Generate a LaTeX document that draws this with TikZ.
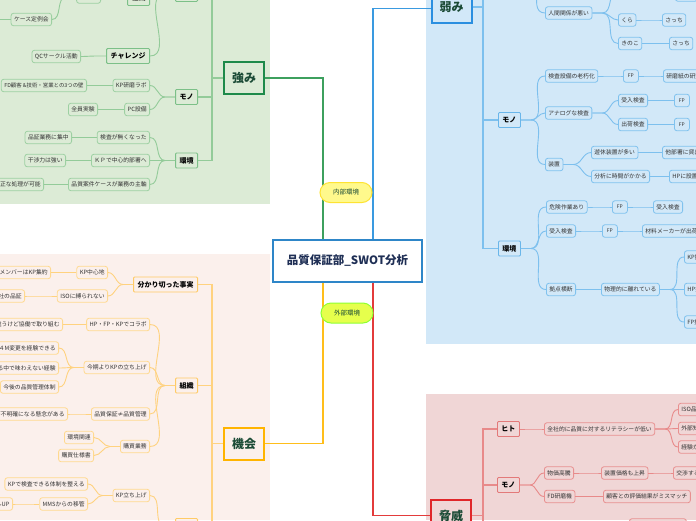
\documentclass[tikz,border=0pt]{standalone}
\usepackage{fontspec}
\setmainfont{Noto Sans CJK JP}
\definecolor{gbg}{HTML}{DCEBD6}
\definecolor{gbd}{HTML}{9DD0A2}
\definecolor{gbd2}{HTML}{7CC088}
\definecolor{gln}{HTML}{93CB99}
\definecolor{gmainc}{HTML}{3DA05E}
\definecolor{gquad}{HTML}{1E8A4A}
\definecolor{obg}{HTML}{FBF0EC}
\definecolor{obd}{HTML}{FFD98F}
\definecolor{obd2}{HTML}{FFCB66}
\definecolor{oln}{HTML}{FFD27F}
\definecolor{omainc}{HTML}{FFBE1A}
\definecolor{oquad}{HTML}{FFB400}
\definecolor{bbg}{HTML}{D2E8F8}
\definecolor{bbd}{HTML}{80C2EE}
\definecolor{bbd2}{HTML}{6AB6EA}
\definecolor{bln}{HTML}{7DC0EE}
\definecolor{bmainc}{HTML}{3A9AE0}
\definecolor{bquad}{HTML}{2B8FE0}
\definecolor{rbg}{HTML}{F0D6D6}
\definecolor{rbd}{HTML}{E89090}
\definecolor{rbd2}{HTML}{E37A7A}
\definecolor{rln}{HTML}{E88A8A}
\definecolor{rmainc}{HTML}{E33B3B}
\definecolor{rquad}{HTML}{E0272A}
\definecolor{txtc}{HTML}{333333}
\definecolor{qtext}{HTML}{1B4B36}
\definecolor{ctext}{HTML}{1F2F55}
\definecolor{cbd}{HTML}{2E86C8}
\newcommand\mmL[3]{\draw[#1] (#2.west) -- ++(-10,0) to[out=180,in=0] (#3.east);}
\newcommand\mmR[3]{\draw[#1] (#2.east) -- ++(10,0) to[out=0,in=180] (#3.west);}
\tikzset{
  base/.style={rounded corners=2.5pt, line width=0.8pt, text=txtc,
    font=\fontsize{5.8}{7}\selectfont, inner xsep=3pt, inner ysep=0pt, minimum height=12.5pt},
  midbase/.style={rounded corners=1pt, line width=0.9pt, text=black,
    font=\bfseries\fontsize{7}{8}\selectfont, inner xsep=4pt, inner ysep=0pt, minimum height=15pt},
  gleaf/.style={base, draw=gbd, fill=gbg},
  gmid/.style={midbase, draw=gbd2, fill=gbg},
  oleaf/.style={base, draw=obd, fill=obg},
  omid/.style={midbase, draw=obd2, fill=obg},
  bleaf/.style={base, draw=bbd, fill=bbg},
  bmid/.style={midbase, draw=bbd2, fill=bbg},
  rleaf/.style={base, draw=rbd, fill=rbg},
  rmid/.style={midbase, draw=rbd2, fill=rbg},
  glink/.style={draw=gln, line width=0.9pt},
  olink/.style={draw=oln, line width=0.9pt},
  blink/.style={draw=bln, line width=0.9pt},
  rlink/.style={draw=rln, line width=0.9pt},
  quad/.style={line width=2pt, minimum width=40pt, minimum height=32pt, inner sep=0pt,
    font=\bfseries\fontsize{12}{14}\selectfont, text=qtext},
  pill/.style={rounded corners=10pt, line width=1pt, minimum width=52pt, minimum height=20pt,
    inner sep=0pt, font=\fontsize{6.5}{8}\selectfont, text=qtext},
  smallfp/.style={minimum width=15pt, inner xsep=2pt, font=\fontsize{5}{6}\selectfont},
}
\begin{document}
\begin{tikzpicture}[x=1pt,y=-1pt]
\useasboundingbox (0,0) rectangle (696,520);
\clip (0,0) rectangle (696,520);
\fill[white] (0,0) rectangle (696,520);
% regions
\fill[gbg] (0,0) rectangle (270,204);
\fill[obg] (0,254) rectangle (270,520);
\fill[bbg] (426,0) rectangle (696,344);
\fill[rbg] (426,394) rectangle (696,520);

% center and quadrant boxes
\node[draw=cbd, line width=1.6pt, fill=white, minimum width=149pt, minimum height=42pt, inner sep=0pt,
  font=\bfseries\fontsize{11.5}{13}\selectfont, text=ctext] (C) at (347.5,261) {品質保証部\_SWOT分析};
\node[quad, draw=gquad, fill=gbg] (S) at (244,78) {強み};
\node[quad, draw=bquad, fill=bbg] (W) at (451.5,7) {弱み};
\node[quad, draw=oquad, fill=obg] (O) at (244,443.5) {機会};
\node[quad, draw=rquad, fill=rbg] (T) at (451,515.5) {脅威};

% main lines
\draw[gmainc, line width=1.3pt] ([xshift=-24.5pt]C.north) |- (S.east);
\draw[bmainc, line width=1.3pt] ([xshift=25.5pt]C.north) |- ([yshift=-1.5pt]W.west);
\draw[omainc, line width=1.3pt] ([xshift=-24.5pt]C.south) |- (O.east);
\draw[rmainc, line width=1.3pt] ([xshift=25.5pt]C.south) |- (T.west);
\node[pill, draw=yellow!80!orange!80, fill=yellow!45] (in) at (346,192.5) {内部環境};
\node[pill, draw=lime!60!green!80, fill=lime!55!yellow!70] (out) at (347,313) {外部環境};

% ---------------- strengths ----------------
\node[gmid, anchor=east] (gH) at (198,-6) {ヒト};
\node[gmid, anchor=east] (gOrg) at (150,-2) {組織};
\node[gleaf, anchor=east, minimum width=24pt] (gX) at (101,-3) {};
\node[gleaf, anchor=east] (gCase) at (52,19.5) {ケース定例会};
\node[gleaf, anchor=east, minimum width=20pt] (gCaseC) at (-15,19.5) {};
\node[gmid, anchor=east] (gCh) at (150,56) {チャレンジ};
\node[gleaf, anchor=east] (gQC) at (81,56.5) {QCサークル活動};
\node[gmid, anchor=east] (gMono) at (198,97) {モノ};
\node[gleaf, anchor=east] (gKP) at (150,85.5) {KP研磨ラボ};
\node[gleaf, anchor=east, font=\fontsize{5.4}{7}\selectfont] (gFD) at (87,85.5) {FD顧客 \&技術・営業との3つの壁};
\node[gleaf, anchor=east] (gPC) at (150,109.5) {PC設備};
\node[gleaf, anchor=east] (gAll) at (98,109.5) {全員実験};
\node[gmid, anchor=east] (gEnv) at (198,160.5) {環境};
\node[gleaf, anchor=east] (gNo) at (150,137.5) {検査が無くなった};
\node[gleaf, anchor=east] (gFoc) at (72,137.5) {品証業務に集中};
\node[gleaf, anchor=east] (gCen) at (150,160.5) {ＫＰで中心的部署へ};
\node[gleaf, anchor=east] (gKan) at (66,160.5) {干渉力は強い};
\node[gleaf, anchor=east] (gMain) at (150,184.5) {品質案件ケースが業務の主軸};
\node[gleaf, anchor=east] (gProc) at (44,184.5) {適正な処理が可能};

\draw[glink, line width=1.1pt] (S.west) -- ++(-11,0) coordinate (gj);
\draw[glink, line width=1.1pt] (gj) |- (gH.east);
\draw[glink, line width=1.1pt] (gj) |- (gMono.east);
\draw[glink, line width=1.1pt] (gj) |- (gEnv.east);
\mmL{glink}{gH}{gOrg}
\mmL{glink}{gH}{gCh}
\mmL{glink}{gOrg}{gX}
\mmL{glink}{gX}{gCase}
\mmL{glink}{gCase}{gCaseC}
\mmL{glink}{gCh}{gQC}
\mmL{glink}{gMono}{gKP}
\mmL{glink}{gMono}{gPC}
\mmL{glink}{gKP}{gFD}
\mmL{glink}{gPC}{gAll}
\mmL{glink}{gEnv}{gNo}
\mmL{glink}{gEnv}{gCen}
\mmL{glink}{gEnv}{gMain}
\mmL{glink}{gNo}{gFoc}
\mmL{glink}{gCen}{gKan}
\mmL{glink}{gMain}{gProc}

% ---------------- opportunities ----------------
\node[omid, anchor=east] (oFact) at (198,284.5) {分かり切った事実};
\node[oleaf, anchor=east] (oKP) at (108,272.5) {KP中心地};
\node[oleaf, anchor=east] (oMem) at (51,272.5) {主要メンバーはKP集約};
\node[oleaf, anchor=east] (oISO) at (108,296) {ISOに縛られない};
\node[oleaf, anchor=east] (oOth) at (25,296) {他社の品証};
\node[omid, anchor=east] (oOrg) at (198,385.5) {組織};
\node[oleaf, anchor=east] (oCol) at (150,324.5) {HP・FP・KPでコラボ};
\node[oleaf, anchor=east] (oDiff) at (63,324.5) {役割は違うけど協働で取り組む};
\node[oleaf, anchor=east] (oStart) at (150,367.5) {今期よりKPの立ち上げ};
\node[oleaf, anchor=east] (o4M) at (59,348) {４M変更を経験できる};
\node[oleaf, anchor=east] (oTaste) at (59,368) {工場にいる中で味わえない経験};
\node[oleaf, anchor=east] (oFut) at (59,387) {今後の品質管理体制};
\node[oleaf, anchor=east] (oQA) at (150,414) {品質保証≠品質管理};
\node[oleaf, anchor=east] (oUnc) at (68,414) {役割が不明確になる懸念がある};
\node[oleaf, anchor=east] (oBuy) at (150,446.5) {購買業務};
\node[oleaf, anchor=east] (oEnvR) at (94,437.5) {環境関連};
\node[oleaf, anchor=east] (oSpec) at (94,455.5) {購買仕様書};
\node[omid, anchor=east] (oBot) at (198,526) {ヒト};
\node[oleaf, anchor=east] (oKPup) at (150,495.5) {KP立ち上げ};
\node[oleaf, anchor=east] (oSys) at (88,484) {KPで検査できる体制を整える};
\node[oleaf, anchor=east] (oMMS) at (88,504) {MMSからの移管};
\node[oleaf, anchor=east] (oUP) at (13,504) {スキルUP};

\draw[olink, line width=1.1pt] (O.west) -- ++(-11,0) coordinate (oj);
\draw[olink, line width=1.1pt] (oj) |- (oFact.east);
\draw[olink, line width=1.1pt] (oj) |- (oOrg.east);
\draw[olink, line width=1.1pt] (oj) |- (oBot.east);
\mmL{olink}{oFact}{oKP}
\mmL{olink}{oFact}{oISO}
\mmL{olink}{oKP}{oMem}
\mmL{olink}{oISO}{oOth}
\mmL{olink}{oOrg}{oCol}
\mmL{olink}{oOrg}{oStart}
\mmL{olink}{oOrg}{oQA}
\mmL{olink}{oOrg}{oBuy}
\mmL{olink}{oCol}{oDiff}
\mmL{olink}{oStart}{o4M}
\mmL{olink}{oStart}{oTaste}
\mmL{olink}{oStart}{oFut}
\mmL{olink}{oQA}{oUnc}
\mmL{olink}{oBuy}{oEnvR}
\mmL{olink}{oBuy}{oSpec}
\mmL{olink}{oBot}{oKPup}
\mmL{olink}{oKPup}{oSys}
\mmL{olink}{oKPup}{oMMS}
\mmL{olink}{oMMS}{oUP}

% ---------------- weaknesses ----------------
\node[bmid, anchor=west] (wH) at (498,-40) {ヒト};
\node[bleaf, anchor=west] (wRel) at (545,13) {人間関係が悪い};
\node[bleaf, anchor=west, minimum width=30pt] (wTop) at (618,-10) {};
\node[bleaf, anchor=west, minimum width=22pt] (wTopR) at (675,-5) {};
\node[bleaf, anchor=west] (wKura) at (618,20) {くら};
\node[bleaf, anchor=west] (wSa1) at (662,20) {さっち};
\node[bleaf, anchor=west] (wKino) at (618,43.5) {きのこ};
\node[bleaf, anchor=west] (wSa2) at (669,43.5) {さっち};
\node[bmid, anchor=west] (wMono) at (498,120) {モノ};
\node[bleaf, anchor=west] (wOld) at (545,76) {検査設備の老朽化};
\node[bleaf, smallfp, anchor=west] (wFP1) at (623,76) {FP};
\node[bleaf, anchor=west] (wPap) at (663,76) {研磨紙の研究};
\node[bleaf, anchor=west] (wAna) at (545,113) {アナログな検査};
\node[bleaf, anchor=west] (wIn) at (618,100.5) {受入検査};
\node[bleaf, smallfp, anchor=west] (wFP2) at (674,100.5) {FP};
\node[bleaf, anchor=west] (wOut) at (618,124.5) {出荷検査};
\node[bleaf, smallfp, anchor=west] (wFP3) at (674,124.5) {FP};
\node[bleaf, anchor=west] (wDev) at (545,164.5) {装置};
\node[bleaf, anchor=west] (wIdle) at (591,152.5) {遊休装置が多い};
\node[bleaf, anchor=west] (wLend) at (662,152.5) {他部署に貸出};
\node[bleaf, anchor=west] (wAnal) at (591,176.5) {分析に時間がかかる};
\node[bleaf, anchor=west] (wHP) at (669,176.5) {HPに設置};
\node[bmid, anchor=west] (wEnv) at (498,248.5) {環境};
\node[bleaf, anchor=west] (wDan) at (546,207) {危険作業あり};
\node[bleaf, smallfp, anchor=west] (wFP4) at (612,207) {FP};
\node[bleaf, anchor=west] (wIn2) at (653,207) {受入検査};
\node[bleaf, anchor=west] (wIn3) at (546,231) {受入検査};
\node[bleaf, smallfp, anchor=west] (wFP5) at (602,231) {FP};
\node[bleaf, anchor=west] (wMak) at (642,231) {材料メーカーが出荷検査};
\node[bleaf, anchor=west] (wCross) at (546,289.5) {拠点横断};
\node[bleaf, anchor=west] (wPhys) at (601,289.5) {物理的に離れている};
\node[bleaf, anchor=west] (wKP) at (684,257) {KP拠点};
\node[bleaf, anchor=west] (wHP2) at (684,289.5) {HP拠点};
\node[bleaf, anchor=west] (wFP6) at (684,322) {FP拠点};

\draw[blink, line width=1.1pt] (W.east) -- ++(10.5,0) coordinate (wj);
\draw[blink, line width=1.1pt] (wj) |- (wH.west);
\draw[blink, line width=1.1pt] (wj) |- (wMono.west);
\draw[blink, line width=1.1pt] (wj) |- (wEnv.west);
\mmR{blink}{wH}{wRel}
\mmR{blink}{wRel}{wTop}
\mmR{blink}{wTop}{wTopR}
\mmR{blink}{wRel}{wKura}
\mmR{blink}{wRel}{wKino}
\mmR{blink}{wKura}{wSa1}
\mmR{blink}{wKino}{wSa2}
\mmR{blink}{wMono}{wOld}
\mmR{blink}{wMono}{wAna}
\mmR{blink}{wMono}{wDev}
\mmR{blink}{wOld}{wFP1}
\mmR{blink}{wFP1}{wPap}
\mmR{blink}{wAna}{wIn}
\mmR{blink}{wAna}{wOut}
\mmR{blink}{wIn}{wFP2}
\mmR{blink}{wOut}{wFP3}
\mmR{blink}{wDev}{wIdle}
\mmR{blink}{wDev}{wAnal}
\mmR{blink}{wIdle}{wLend}
\mmR{blink}{wAnal}{wHP}
\mmR{blink}{wEnv}{wDan}
\mmR{blink}{wEnv}{wIn3}
\mmR{blink}{wEnv}{wCross}
\mmR{blink}{wDan}{wFP4}
\mmR{blink}{wFP4}{wIn2}
\mmR{blink}{wIn3}{wFP5}
\mmR{blink}{wFP5}{wMak}
\mmR{blink}{wCross}{wPhys}
\mmR{blink}{wPhys}{wKP}
\mmR{blink}{wPhys}{wHP2}
\mmR{blink}{wPhys}{wFP6}

% ---------------- threats ----------------
\node[rmid, anchor=west] (tH) at (497,429) {ヒト};
\node[rleaf, anchor=west] (tLit) at (544,429) {全社的に品質に対するリテラシーが低い};
\node[rleaf, anchor=west] (tISO) at (678,409.5) {ISO品質};
\node[rleaf, anchor=west] (tExt) at (678,428.5) {外部知識};
\node[rleaf, anchor=west] (tExp) at (678,447) {経験が少ない};
\node[rmid, anchor=west] (tMono) at (497,485) {モノ};
\node[rleaf, anchor=west] (tPri) at (544,473) {物価高騰};
\node[rleaf, anchor=west] (tDevP) at (601,473) {装置価格も上昇};
\node[rleaf, anchor=west] (tNeg) at (673,473) {交渉する必要};
\node[rleaf, anchor=west] (tFD) at (544,496.5) {FD研磨機};
\node[rleaf, anchor=west] (tMis) at (603,496.5) {顧客との評価結果がミスマッチ};
\node[rmid, anchor=west] (tEnv) at (497,550) {環境};
\node[rleaf, anchor=west, minimum width=57pt] (tBot) at (629,525) {};

\draw[rlink, line width=1.1pt] (T.east) -- ++(11,0) coordinate (tj);
\draw[rlink, line width=1.1pt] (tj) |- (tH.west);
\draw[rlink, line width=1.1pt] (tj) |- (tMono.west);
\draw[rlink, line width=1.1pt] (tj) |- (tEnv.west);
\mmR{rlink}{tH}{tLit}
\mmR{rlink}{tLit}{tISO}
\mmR{rlink}{tLit}{tExt}
\mmR{rlink}{tLit}{tExp}
\mmR{rlink}{tMono}{tPri}
\mmR{rlink}{tMono}{tFD}
\mmR{rlink}{tPri}{tDevP}
\mmR{rlink}{tDevP}{tNeg}
\mmR{rlink}{tFD}{tMis}
\mmR{rlink}{tEnv}{tBot}
\end{tikzpicture}
\end{document}
